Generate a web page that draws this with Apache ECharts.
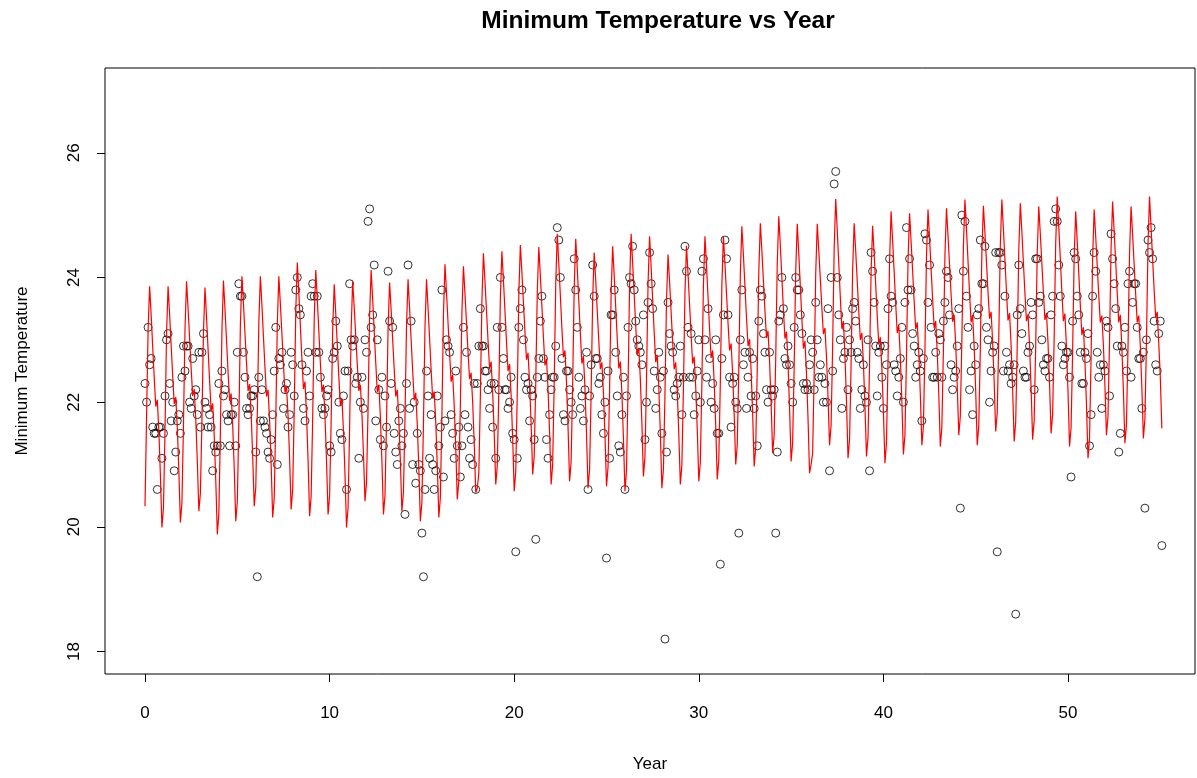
<!DOCTYPE html>
<html>
<head>
<meta charset="utf-8">
<script src="https://cdn.jsdelivr.net/npm/echarts@6/dist/echarts.min.js"></script>
<style>html,body{margin:0;padding:0;background:#fff}#c{width:1197px;height:778px}</style>
</head>
<body>
<div id="c"></div>
<script>
// Monthly observations (12 per year, index i -> year i/12)
const obsA = [
22.3,22.0,23.2,22.6,22.7,21.6,21.5,21.5,20.6,21.6,21.6,21.1,
21.5,22.1,23.0,23.1,22.3,21.7,22.0,20.9,21.2,21.7,21.8,21.5,
22.4,22.9,22.5,22.9,22.9,22.0,21.9,22.7,22.1,22.2,21.8,22.8,
21.6,22.8,23.1,22.0,21.9,21.6,21.8,21.6,20.9,21.3,21.2,21.3,
22.3,21.3,22.5,22.1,22.2,21.8,21.7,21.3,21.8,21.8,22.0,21.3,
22.8,23.9,23.7,23.7,22.8,22.4,21.9,21.8,21.9,22.1,22.1,22.2,
21.2,19.2,22.4,21.7,22.2,21.7,21.6,21.5,21.2,21.1,21.4,21.8,
22.5,23.2,21.0,22.7,22.6,22.8,21.9,22.2,22.3,21.6,21.8,22.8,
22.6,22.1,23.8,24.0,23.5,23.4,22.6,21.9,21.7,22.5,22.8,22.1,
23.7,23.9,23.7,22.8,23.7,22.8,22.4,21.9,21.8,21.9,22.1,22.2,
21.3,21.2,22.7,22.8,23.3,22.9,22.0,21.5,21.4,22.1,22.5,20.6,
22.5,23.9,23.0,22.9,23.0,22.3,22.4,21.1,22.0,22.4,21.9,23.0,
22.8,24.9,25.1,23.2,23.4,24.2,21.7,23.0,22.2,21.4,22.4,21.3,
22.1,21.6,24.1,23.3,22.3,23.2,21.5,21.2,21.0,21.7,21.9,21.3
];
const obsB = [
21.5,20.2,22.3,24.2,21.9,23.3,21.0,22.0,20.7,21.5,21.0,20.9,
19.9,19.2,20.6,22.5,22.1,21.1,21.8,21.0,20.6,20.9,22.1,21.3,
21.6,23.8,20.8,21.7,23.0,22.9,22.8,21.8,21.5,21.1,22.5,21.3,
21.6,20.8,21.3,23.2,21.8,22.8,21.6,21.1,21.4,21.0,22.3,20.6,
22.3,22.9,23.5,22.9,22.9,22.5,22.5,22.2,21.9,22.3,21.6,22.3,
21.1,23.2,22.2,24.0,23.2,22.7,22.2,22.2,21.9,22.0,22.4,21.5,
21.4,19.6,21.1,23.2,23.5,23.8,23.0,22.4,22.2,22.3,21.7,22.2,
22.1,21.4,19.8,22.4,22.7,23.3,23.7,22.7,22.4,21.4,21.1,21.8,
22.2,22.4,22.4,22.9,24.8,24.6,24.0,22.7,21.8,21.7,22.5,22.5,
22.2,22.0,21.8,24.3,23.8,23.2,22.4,21.9,22.1,21.7,22.2,22.8,
20.6,22.1,22.6,24.2,23.7,22.7,22.7,22.3,22.4,21.8,21.5,22.0,
19.5,22.5,21.1,23.4,23.4,23.8,22.8,22.1,21.3,21.2,21.8,22.4,
20.6,22.1,23.2,24.0,23.9,24.5,23.8,23.3,23.0,22.9,22.8,22.6,
23.4,21.4,22.0,23.6,24.4,23.9,23.5,22.5,21.9,22.2,22.8,22.4
];
const obsC = [
21.5,22.5,18.2,21.2,23.6,23.1,22.9,22.8,22.2,22.1,22.3,22.4,
22.9,21.8,22.4,24.5,24.1,23.2,22.4,23.1,22.4,21.8,22.1,22.5,
23.0,22.0,24.1,24.3,23.0,22.4,23.5,22.7,22.0,22.3,21.9,23.0,
21.5,21.5,19.4,22.7,23.4,24.6,24.3,23.4,22.4,21.6,22.3,22.4,
22.0,21.9,19.9,23.0,23.8,22.6,22.8,21.9,22.4,22.8,22.1,22.7,
21.9,22.1,21.3,23.3,23.8,23.7,23.1,22.8,22.2,22.0,22.8,22.2,
22.1,22.2,19.9,21.2,23.3,23.4,24.0,23.5,22.7,22.6,22.9,22.6,
22.3,22.0,23.2,24.0,23.8,23.8,23.4,23.1,22.3,22.2,22.3,22.2,
22.6,23.0,22.8,22.2,23.6,23.0,22.4,22.6,22.4,22.0,22.3,22.0,
23.5,20.9,24.0,22.5,25.5,25.7,24.0,23.4,23.0,21.9,22.7,22.8,
23.2,22.2,23.0,22.8,23.5,23.6,23.3,22.8,22.7,21.9,22.2,22.6,
22.1,22.0,23.0,20.9,24.4,24.1,23.6,22.9,22.1,22.8,22.9,22.4,
21.9,22.9,22.6,23.5,24.3,23.7,23.6,22.6,22.5,22.1,22.4,22.7,
23.2,22.0,23.6,24.8,23.8,24.3,23.8,23.1,22.9,22.4,22.6,22.8
];
const obsD = [
22.5,21.7,22.7,24.7,24.6,23.6,24.2,23.2,22.4,22.4,22.8,22.4,
23.1,23.0,22.4,23.3,23.6,24.1,24.0,23.4,22.6,22.2,22.4,22.5,
22.9,23.5,20.3,25.0,24.1,24.9,23.7,23.2,22.2,22.5,21.8,22.9,
22.6,23.4,23.5,24.6,23.9,23.9,24.5,23.2,23.0,22.0,22.5,22.8,
22.9,24.4,19.6,24.4,24.4,24.2,22.5,23.7,22.8,22.5,22.6,22.3,
22.4,22.6,18.6,23.4,24.2,23.5,23.1,22.5,22.4,22.4,22.8,22.9,
23.6,23.4,22.2,24.3,24.3,23.6,23.7,23.0,22.6,22.5,22.7,22.7,
22.4,23.4,23.7,24.9,25.1,24.9,24.2,23.7,22.9,22.6,22.7,22.8,
22.8,22.4,20.8,23.3,24.4,24.3,23.7,23.4,22.8,22.3,22.3,22.8,
22.7,23.1,21.3,21.8,23.7,24.4,24.1,22.8,22.4,22.6,21.9,22.6,
22.5,23.3,23.2,22.1,24.7,24.3,23.9,23.5,22.9,21.2,21.5,22.9,
22.8,23.2,22.5,23.9,24.1,22.4,23.6,23.9,23.9,23.2,22.7,22.7,
21.9,22.8,20.3,23.0,24.6,24.4,24.8,24.3,23.3,22.6,22.5,23.1,
23.3,19.7
];
// Fitted monthly values (red line)
const fitA = [
20.33,21.74,23.15,23.86,23.40,22.89,22.39,21.93,22.04,21.54,20.84,19.99,
20.30,21.54,23.09,23.86,23.41,22.91,22.42,21.97,22.08,21.59,20.90,20.07,
20.38,21.62,23.17,23.94,23.50,23.02,22.54,22.10,22.21,21.73,21.06,20.25,
20.54,21.69,23.12,23.84,23.36,22.85,22.34,21.86,21.98,21.46,20.75,19.88,
20.21,21.51,23.14,23.95,23.49,22.99,22.48,22.02,22.14,21.63,20.94,20.09,
20.40,21.66,23.23,24.02,23.58,23.10,22.62,22.18,22.29,21.81,21.14,20.33,
20.63,21.81,23.28,24.02,23.56,23.05,22.55,22.09,22.20,21.70,21.00,20.15,
20.46,21.70,23.25,24.02,23.57,23.09,22.60,22.15,22.26,21.78,21.10,20.28,
20.60,21.86,23.45,24.24,23.75,23.22,22.69,22.21,22.33,21.80,21.07,20.17,
20.49,21.75,23.33,24.12,23.65,23.14,22.63,22.16,22.28,21.77,21.06,20.20,
20.50,21.68,23.15,23.89,23.42,22.92,22.41,21.94,22.06,21.55,20.85,19.99,
20.31,21.57,23.15,23.94,23.52,23.06,22.60,22.18,22.28,21.82,21.19,20.41,
20.71,21.89,23.38,24.12,23.65,23.14,22.63,22.16,22.28,21.77,21.06,20.20,
20.50,21.69,23.18,23.92,23.48,23.00,22.53,22.09,22.20,21.72,21.06,20.25
];
const fitB = [
20.55,21.74,23.23,23.97,23.50,23.00,22.50,22.03,22.15,21.64,20.94,20.09,
20.40,21.64,23.19,23.97,23.51,23.02,22.52,22.06,22.17,21.68,20.99,20.15,
20.47,21.77,23.40,24.21,23.76,23.27,22.78,22.33,22.44,21.95,21.27,20.44,
20.74,21.94,23.43,24.18,23.74,23.27,22.80,22.37,22.47,22.00,21.35,20.55,
20.62,
20.86,22.09,23.62,24.39,23.94,23.46,22.98,22.54,22.65,22.16,21.50,20.68,
20.98,22.18,23.67,24.42,23.96,23.46,22.96,22.50,22.61,22.11,21.42,20.57,
20.89,22.15,23.73,24.52,24.08,23.60,23.12,22.68,22.79,22.31,21.65,20.84,
21.13,22.30,23.76,24.49,24.03,23.54,23.04,22.59,22.70,22.20,21.52,20.68,
21.00,22.29,23.90,24.70,24.22,23.71,23.19,22.72,22.83,22.32,21.60,20.73,
21.04,22.29,23.84,24.62,24.14,23.62,23.10,22.62,22.74,22.22,21.50,20.62,
20.92,22.13,23.64,24.40,23.95,23.46,22.98,22.53,22.64,22.15,21.48,20.65,
20.96,22.19,23.73,24.50,24.03,23.52,23.01,22.54,22.65,22.14,21.43,20.57,
20.90,22.22,23.87,24.70,24.23,23.73,23.22,22.76,22.87,22.37,21.67,20.81,
21.12,22.35,23.89,24.66,24.18,23.65,23.12,22.64,22.76,22.24,21.51,20.62
];
const fitC = [
20.92,22.12,23.62,24.37,23.93,23.45,22.97,22.53,22.64,22.16,21.49,20.68,
20.99,22.21,23.74,24.51,24.06,23.57,23.07,22.62,22.73,22.24,21.56,20.73,
21.04,22.30,23.87,24.66,24.19,23.69,23.18,22.71,22.83,22.32,21.62,20.76,
21.07,22.32,23.88,24.66,24.22,23.75,23.27,22.83,22.94,22.46,21.81,21.00,
21.31,22.53,24.06,24.82,24.36,23.86,23.36,22.90,23.01,22.51,21.82,20.97,
21.28,22.53,24.09,24.87,24.43,23.95,23.47,23.03,23.14,22.66,21.99,21.18,
21.48,22.70,24.22,24.98,24.51,24.00,23.49,23.02,23.13,22.62,21.91,21.05,
21.35,22.57,24.10,24.86,24.38,23.86,23.34,22.86,22.98,22.46,21.74,20.86,
21.00,
21.18,22.46,24.06,24.86,24.43,23.97,23.51,23.09,23.19,22.73,22.09,21.31,
21.63,22.89,24.47,25.26,24.76,24.22,23.68,23.18,23.30,22.76,22.02,21.10,
21.40,22.61,24.12,24.87,24.42,23.94,23.45,23.00,23.11,22.63,21.95,21.13,
21.43,22.61,24.09,24.83,24.37,23.88,23.38,22.93,23.04,22.54,21.86,21.02,
21.34,22.64,24.25,25.06,24.59,24.09,23.58,23.11,23.23,22.72,22.02,21.16,
21.47,22.71,24.26,25.03,24.58,24.10,23.62,23.17,23.28,22.80,22.13,21.31
];
const fitD = [
21.61,22.82,24.33,25.09,24.63,24.14,23.65,23.19,23.30,22.81,22.13,21.29,
21.60,22.82,24.35,25.11,24.67,24.20,23.73,23.29,23.40,22.93,22.27,21.47,
21.77,22.98,24.49,25.25,24.78,24.27,23.75,23.28,23.40,22.89,22.18,21.31,
21.62,22.85,24.38,25.15,24.72,24.25,23.77,23.34,23.45,22.98,22.33,21.53,
21.83,23.02,24.51,25.25,24.78,24.28,23.78,23.31,23.43,22.92,22.22,21.37,
21.68,22.90,24.43,25.19,24.74,24.24,23.75,23.30,23.41,22.92,22.23,21.40,
21.70,22.90,24.39,25.14,24.70,24.23,23.76,23.32,23.43,22.96,22.30,21.50,
21.80,23.02,24.54,25.30,24.82,24.30,23.78,23.30,23.42,22.89,22.17,21.29,
21.59,22.80,24.31,25.06,24.58,24.07,23.56,23.08,23.20,22.68,21.97,21.10,
21.42,22.70,24.29,25.09,24.66,24.19,23.71,23.28,23.39,22.92,22.27,21.47,
21.77,22.97,24.47,25.22,24.75,24.25,23.75,23.28,23.40,22.89,22.19,21.34,
21.64,22.86,24.38,25.14,24.69,24.21,23.73,23.28,23.39,22.91,22.24,21.42,
21.73,22.97,24.52,25.30,24.80,24.30,23.80,23.35,23.45,22.95,22.40,21.58
];
const xTicks = [0, 10, 20, 30, 40, 50];
const yTicks = [18, 20, 22, 24, 26];
const monthsPerYear = 12;

const observed = [].concat(obsA, obsB, obsC, obsD);
const fitted = [].concat(fitA, fitB, fitC, fitD);
const obsData = observed.map((v, i) => [i / monthsPerYear, v]);
const fitData = fitted.map((v, i) => [i / monthsPerYear, v]);

const FONT = '"Liberation Sans", Arial, sans-serif';
const chart = echarts.init(document.getElementById('c'), null, {renderer: 'canvas'});
chart.setOption({
  animation: false,
  backgroundColor: '#fff',
  title: {
    text: 'Minimum Temperature vs Year',
    left: 653, top: 4, textAlign: 'center',
    textStyle: {fontFamily: FONT, fontWeight: 'bold', fontSize: 24.5, color: '#000'}
  },
  grid: {left: 105, top: 68, width: 1090, height: 612, show: true, borderColor: '#000', borderWidth: 1, backgroundColor: 'transparent'},
  xAxis: {
    type: 'value', min: -2.167, max: 56.88,
    name: 'Year', nameLocation: 'middle', nameGap: 82,
    nameTextStyle: {fontFamily: FONT, fontSize: 17, color: '#000'},
    axisLine: {show: false, onZero: false},
    splitLine: {show: false},
    axisTick: {show: true, customValues: xTicks, length: 8, lineStyle: {color: '#000'}},
    axisLabel: {customValues: xTicks, fontFamily: FONT, fontSize: 17, color: '#000', margin: 31}
  },
  yAxis: {
    type: 'value', min: 17.64, max: 27.36,
    name: 'Minimum Temperature', nameLocation: 'middle', nameGap: 74, nameRotate: 90,
    nameTextStyle: {fontFamily: FONT, fontSize: 17, color: '#000'},
    axisLine: {show: false, onZero: false},
    splitLine: {show: false},
    axisTick: {show: true, customValues: yTicks, length: 8, lineStyle: {color: '#000'}},
    axisLabel: {customValues: yTicks, rotate: 90, fontFamily: FONT, fontSize: 17, color: '#000', margin: 22}
  },
  series: [
    {
      type: 'scatter', data: obsData, symbol: 'circle', symbolSize: 8,
      itemStyle: {color: 'rgba(0,0,0,0)', borderColor: '#000', borderWidth: 1}, z: 2
    },
    {
      type: 'line', data: fitData, showSymbol: false, symbol: 'none',
      lineStyle: {color: '#ff0000', width: 1.2}, z: 3
    }
  ]
});
</script>
</body>
</html>
